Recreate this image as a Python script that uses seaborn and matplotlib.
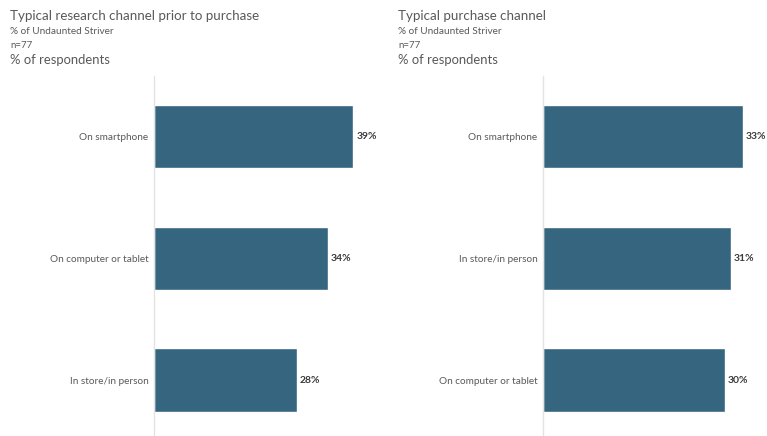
import matplotlib
matplotlib.use("Agg")
import matplotlib.pyplot as plt
import seaborn as sns
import pandas as pd

sns.set_theme(style="white")
plt.rcParams['font.family'] = ['Lato', 'DejaVu Sans']

research_channels = ["On smartphone", "On computer or tablet", "In store/in person"]
research_values = [39, 34, 28]

purchase_channels = ["On smartphone", "In store/in person", "On computer or tablet"]
purchase_values = [33, 31, 30]

titles = ["Typical research channel prior to purchase", "Typical purchase channel"]
subtitle = "% of Undaunted Striver"
sample = "n=77"
unit = "% of respondents"

BAR = "#35657f"
GREY = "#595959"

fig = plt.figure(figsize=(7.67, 4.36), dpi=100)
W, H = 767, 436

panels = [
    (research_channels, research_values, 154, 44.0, 10),
    (purchase_channels, purchase_values, 543, 37.1, 398),
]

for (cats, vals, x0, xmax, tx), title in zip(panels, titles):
    ax = fig.add_axes([x0 / W, 0, 225 / W, (436 - 76) / H])
    df = pd.DataFrame({"channel": cats, "pct": vals})
    sns.barplot(data=df, x="pct", y="channel", ax=ax, color=BAR,
                saturation=1, width=0.52, orient="h")
    ax.set_xlim(0, xmax)
    ax.set_ylim(2.46, -0.5)
    ax.set_xlabel("")
    ax.set_ylabel("")
    ax.set_xticks([])
    for s in ["top", "right", "bottom"]:
        ax.spines[s].set_visible(False)
    ax.spines["left"].set_color("#e3e3e3")
    ax.spines["left"].set_linewidth(1.0)
    ax.tick_params(axis="y", length=0, pad=4, labelsize=7.2, labelcolor=GREY)
    for i, v in enumerate(vals):
        ax.text(v + xmax * 0.013, i, f"{v}%", va="center", ha="left",
                fontsize=7.5, color="#3a3a3a", fontweight="bold")

    fig.text(tx / W, 1 - 16 / H, title, fontsize=9.6, color=GREY, va="center")
    fig.text(tx / W, 1 - 31 / H, subtitle, fontsize=7.2, color=GREY, va="center")
    fig.text(tx / W, 1 - 45 / H, sample, fontsize=7.0, color=GREY, va="center")
    fig.text(tx / W, 1 - 60 / H, unit, fontsize=9.4, color=GREY, va="center")

fig.savefig("out.png", dpi=100)
